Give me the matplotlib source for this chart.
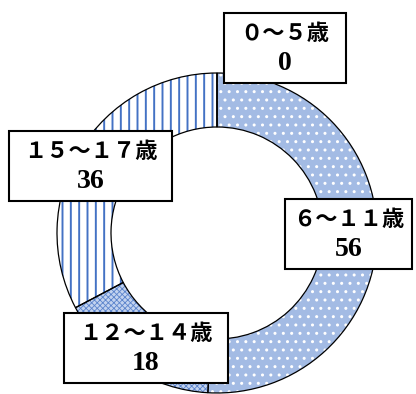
import matplotlib
matplotlib.use("Agg")
from matplotlib import pyplot as plt
from matplotlib.patches import Rectangle

labels = ["０～５歳", "６～１１歳", "１２～１４歳", "１５～１７歳"]
values = [0, 56, 18, 36]
# label box centres / widths in pixel coords (y from bottom)
label_x = [285, 348.5, 146, 90.5]
label_y = [346.5, 160.5, 46, 228.5]
box_w = [122, 127, 164, 163]
box_h = 70

plt.rcParams["hatch.linewidth"] = 1.4
cjk = ["Liberation Serif", "Noto Sans CJK JP"]

fig = plt.figure(figsize=(4.16, 3.94), dpi=100)
ax = fig.add_axes([0, 0, 1, 1])

center = (217, 161)
radius = 160
ring = 54

# fill patterns
wedges, _ = ax.pie(values, startangle=90, counterclock=False, radius=radius,
                   center=center, wedgeprops=dict(width=ring, linewidth=0))
styles = [
    dict(facecolor="white", edgecolor="#4472c4", hatch="||", hlw=1.4),
    dict(facecolor="#a3bbe4", edgecolor="white", hatch="..", hlw=1.0),
    dict(facecolor="#c3d3ef", edgecolor="#5b84cc", hatch="xxxxxx", hlw=0.6),
    dict(facecolor="white", edgecolor="#4472c4", hatch="||", hlw=1.4),
]
for w, s in zip(wedges, styles):
    w.set_facecolor(s["facecolor"])
    w.set_edgecolor(s["edgecolor"])
    w.set_hatch(s["hatch"])
    if hasattr(w, "set_hatch_linewidth"):
        w.set_hatch_linewidth(s["hlw"])

# outlines
ax.pie(values, startangle=90, counterclock=False, radius=radius, center=center,
       wedgeprops=dict(width=ring, facecolor="none", edgecolor="black", linewidth=0.9))

for lab, v, x, y, bw in zip(labels, values, label_x, label_y, box_w):
    ax.add_patch(Rectangle((x - bw / 2, y - box_h / 2), bw, box_h,
                           facecolor="white", edgecolor="black", linewidth=1.5, zorder=3))
    ax.text(x, y + 13, lab, ha="center", va="center", fontsize=16,
            fontweight="bold", family=cjk, zorder=4)
    ax.text(x, y - 16, str(v), ha="center", va="center", fontsize=20,
            fontweight="bold", family="Liberation Serif", zorder=4)

ax.set_xlim(0, 416)
ax.set_ylim(0, 394)
ax.set_aspect("equal")
ax.axis("off")

fig.savefig("out.png", dpi=100)
